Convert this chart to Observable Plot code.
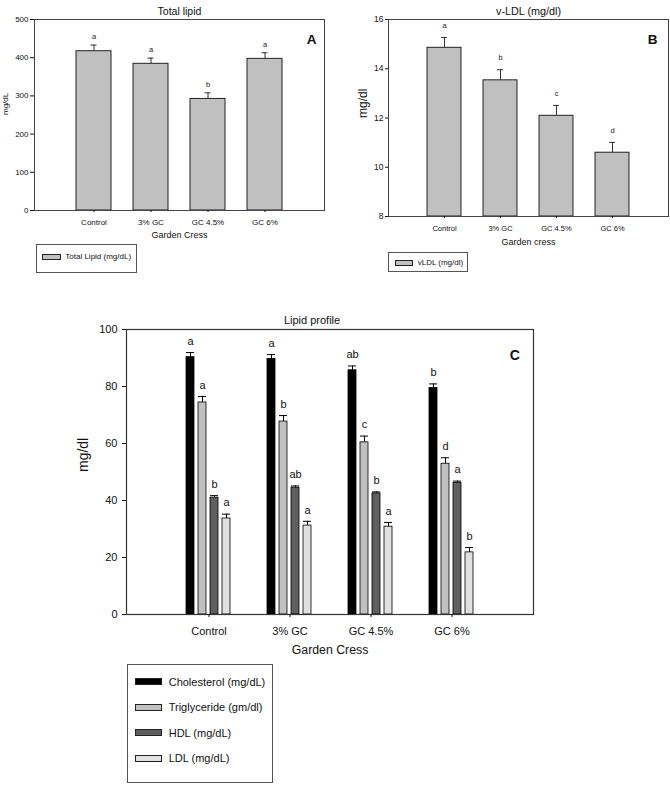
<!DOCTYPE html>
<html>
<head>
<meta charset="utf-8">
<script src="https://cdn.jsdelivr.net/npm/d3@7"></script>
<script src="https://cdn.jsdelivr.net/npm/@observablehq/plot@0.6"></script>
<style>
  body { margin: 0; background: #fff; }
  #page { position: relative; width: 670px; height: 785px; overflow: hidden; background: #fff;
          font-family: "Liberation Sans", Arial, sans-serif; color: #111; }
  .legend { position: absolute; border: 1px solid #555; box-sizing: border-box; }
  .sw { position: absolute; border: 1px solid #222; box-sizing: border-box; }
  .lt { position: absolute; white-space: nowrap; line-height: 1; transform: translateY(-50%); }
</style>
</head>
<body>
<div id="page"></div>
<script>
// ---------- data ----------
const groups = ["Control", "3% GC", "GC 4.5%", "GC 6%"];

// Panel A: Total lipid
const totalLipid = [417, 384, 292, 397];
const totalLipidSE = [16, 15, 16, 16];
const totalLipidLetters = ["a", "a", "b", "a"];
const yTicksA = [0, 100, 200, 300, 400, 500];

// Panel B: v-LDL
const vldl = [14.85, 13.53, 12.09, 10.59];
const vldlSE = [0.42, 0.43, 0.42, 0.42];
const vldlLetters = ["a", "b", "c", "d"];
const yTicksB = [8, 10, 12, 14, 16];

// Panel C: lipid profile
const seriesNames = ["Cholesterol (mg/dL)", "Triglyceride (gm/dl)", "HDL (mg/dL)", "LDL (mg/dL)"];
const cholesterol = [90.3, 89.7, 85.7, 79.5];
const cholesterolSE = [1.6, 1.5, 1.5, 1.4];
const cholesterolLetters = ["a", "a", "ab", "b"];
const triglyceride = [74.4, 67.7, 60.4, 52.9];
const triglycerideSE = [2.1, 2.1, 2.2, 2.1];
const triglycerideLetters = ["a", "b", "c", "d"];
const hdl = [41.0, 44.5, 42.5, 46.2];
const hdlSE = [0.7, 0.6, 0.5, 0.6];
const hdlLetters = ["b", "ab", "b", "a"];
const ldl = [33.7, 31.2, 30.8, 21.8];
const ldlSE = [1.5, 1.5, 1.5, 1.7];
const ldlLetters = ["a", "a", "a", "b"];
const yTicksC = [0, 20, 40, 60, 80, 100];

// ---------- helpers ----------
const FONT = "Liberation Sans, Arial, sans-serif";
const seriesColors = ["#000000", "#c0c0c0", "#606060", "#e0e0e0"];
const page = document.getElementById("page");
function place(node, left, top) {
  node.style.position = "absolute";
  node.style.left = left + "px";
  node.style.top = top + "px";
  page.appendChild(node);
}
function baseStyle(fs) {
  return { fontFamily: FONT, fontSize: fs + "px", color: "#111", background: "transparent", overflow: "visible", maxWidth: "none" };
}
function addLegend({ left, top, width, height, names, fills, swLeft, swW, swH, textLeft, firstRow, rowStep, fontSize }) {
  const box = document.createElement("div");
  box.className = "legend";
  Object.assign(box.style, { left: left + "px", top: top + "px", width: width + "px", height: height + "px" });
  names.forEach((n, i) => {
    const cy = firstRow + i * rowStep;
    const sw = document.createElement("div");
    sw.className = "sw";
    Object.assign(sw.style, { left: swLeft + "px", top: (cy - swH / 2) + "px", width: swW + "px", height: swH + "px", background: fills[i] });
    const t = document.createElement("div");
    t.className = "lt";
    t.textContent = n;
    Object.assign(t.style, { left: textLeft + "px", top: cy + "px", fontSize: fontSize + "px" });
    box.appendChild(sw);
    box.appendChild(t);
  });
  page.appendChild(box);
}

// ---------- Panel A ----------
const dataA = groups.map((g, i) => ({ group: g, value: totalLipid[i], se: totalLipidSE[i], letter: totalLipidLetters[i] }));
const plotA = Plot.plot({
  width: 335, height: 280,
  marginLeft: 34, marginRight: 11, marginTop: 19, marginBottom: 70,
  style: baseStyle(8),
  x: { type: "band", domain: groups, paddingInner: 0.39, paddingOuter: 0.725, axis: null },
  y: { domain: [0, 500], axis: null },
  marks: [
    Plot.barY(dataA, { x: "group", y: "value", fill: "#c0c0c0", stroke: "#222", strokeWidth: 1 }),
    Plot.ruleX(dataA, { x: "group", y1: "value", y2: d => d.value + d.se, stroke: "#333" }),
    Plot.tickY(dataA, { x: "group", y: d => d.value + d.se, stroke: "#333", insetLeft: 14.5, insetRight: 14.5 }),
    Plot.text(dataA, { x: "group", y: d => d.value + d.se, text: "letter", dy: -8.5, fontSize: 7.5, fill: "#222" }),
    Plot.frame({ stroke: "#444" }),
    Plot.axisY({ ticks: yTicksA, tickSize: 4, tickPadding: 2, label: null, fontSize: 8 }),
    Plot.axisX({ tickSize: 2, tickPadding: 7, label: null, fontSize: 8 }),
    Plot.text(["mg/dL"], { frameAnchor: "left", rotate: -90, dx: -29, fontSize: 8 }),
    Plot.text(["Garden Cress"], { frameAnchor: "bottom", dy: 27, fontSize: 9 }),
    Plot.text(["Total lipid"], { frameAnchor: "top", dy: -12, fontSize: 10.5 }),
    Plot.text(["A"], { frameAnchor: "top-right", textAnchor: "end", dx: -8, dy: 15, fontSize: 13.5, fontWeight: "bold" })
  ]
});
place(plotA, 0, 0);

// ---------- Panel B ----------
const dataB = groups.map((g, i) => ({ group: g, value: vldl[i], se: vldlSE[i], letter: vldlLetters[i] }));
const yDomainB = [yTicksB[0], yTicksB[yTicksB.length - 1]];
const plotB = Plot.plot({
  width: 335, height: 280,
  marginLeft: 53, marginRight: 2, marginTop: 19, marginBottom: 64,
  style: baseStyle(8),
  x: { type: "band", domain: groups, paddingInner: 0.393, paddingOuter: 0.694, axis: null },
  y: { domain: yDomainB, axis: null },
  marks: [
    Plot.barY(dataB, { x: "group", y1: yDomainB[0], y2: "value", fill: "#c0c0c0", stroke: "#222", strokeWidth: 1 }),
    Plot.ruleX(dataB, { x: "group", y1: "value", y2: d => d.value + d.se, stroke: "#333" }),
    Plot.tickY(dataB, { x: "group", y: d => d.value + d.se, stroke: "#333", insetLeft: 14, insetRight: 14 }),
    Plot.text(dataB, { x: "group", y: d => d.value + d.se, text: "letter", dy: -12, fontSize: 7.5, fill: "#222" }),
    Plot.frame({ stroke: "#444" }),
    Plot.axisY({ ticks: yTicksB, tickSize: 3, tickPadding: 2, label: null, fontSize: 8.5 }),
    Plot.axisX({ tickSize: 2, tickPadding: 7, label: null, fontSize: 7.5 }),
    Plot.text(["mg/dl"], { frameAnchor: "left", rotate: -90, dx: -25, fontSize: 12 }),
    Plot.text(["Garden cress"], { frameAnchor: "bottom", dy: 28.5, fontSize: 9 }),
    Plot.text(["v-LDL (mg/dl)"], { frameAnchor: "top", dy: -12, fontSize: 10.8 }),
    Plot.text(["B"], { frameAnchor: "top-right", textAnchor: "end", dx: -11, dy: 15, fontSize: 13.5, fontWeight: "bold" })
  ]
});
place(plotB, 335, 0);

// ---------- Panel C ----------
const seriesValues = [cholesterol, triglyceride, hdl, ldl];
const seriesSE = [cholesterolSE, triglycerideSE, hdlSE, ldlSE];
const seriesLetters = [cholesterolLetters, triglycerideLetters, hdlLetters, ldlLetters];
const dataC = [];
groups.forEach((g, gi) => seriesNames.forEach((s, si) => dataC.push({
  group: g, series: s, value: seriesValues[si][gi], se: seriesSE[si][gi], letter: seriesLetters[si][gi]
})));
const dimsC = { width: 670, height: 380, marginLeft: 126, marginRight: 137, marginTop: 29, marginBottom: 66 };
const fxOpts = { type: "band", domain: groups, paddingInner: 0.4, paddingOuter: 0.71 };

// bar layer (bottom): grouped bars via facets
const plotCBars = Plot.plot({
  ...dimsC,
  style: baseStyle(11),
  fx: { ...fxOpts, axis: null, label: null },
  x: { domain: seriesNames, paddingInner: 0.33, paddingOuter: 0.17, axis: null },
  y: { domain: [0, 100], axis: null },
  color: { domain: seriesNames, range: seriesColors },
  marks: [
    Plot.barY(dataC, { fx: "group", x: "series", y: "value", fill: "series", stroke: "#000", strokeWidth: 0.8 }),
    Plot.ruleX(dataC, { fx: "group", x: "series", y1: "value", y2: d => d.value + d.se, stroke: "#000" }),
    Plot.tickY(dataC, { fx: "group", x: "series", y: d => d.value + d.se, stroke: "#000" }),
    Plot.text(dataC, { fx: "group", x: "series", y: d => d.value + d.se, text: "letter", dy: -11.3, fontSize: 11, fill: "#111" })
  ]
});
place(plotCBars, 0, 300);

// frame/axes layer (top, transparent)
const plotCBase = Plot.plot({
  ...dimsC,
  style: baseStyle(11),
  x: { ...fxOpts, axis: null },
  y: { domain: [0, 100], axis: null },
  marks: [
    Plot.frame({ stroke: "#333", strokeWidth: 1.2 }),
    Plot.axisY({ ticks: yTicksC, tickSize: 4, tickPadding: 5, label: null, fontSize: 11 }),
    Plot.axisX({ tickSize: 3, tickPadding: 9.5, label: null, fontSize: 11 }),
    Plot.text(["mg/dl"], { frameAnchor: "left", rotate: -90, dx: -43.2, fontSize: 14 }),
    Plot.text(["Garden Cress"], { frameAnchor: "bottom", dy: 39.3, fontSize: 12.3 }),
    Plot.text(["Lipid profile"], { frameAnchor: "top", dx: -18, dy: -13.3, fontSize: 11 }),
    Plot.text(["C"], { frameAnchor: "top-right", textAnchor: "end", dx: -13.7, dy: 20.7, fontSize: 14, fontWeight: "bold" })
  ]
});
place(plotCBase, 0, 300);

// ---------- legends ----------
addLegend({ left: 35.7, top: 244.3, width: 101, height: 28.4, names: ["Total Lipid (mg/dL)"], fills: ["#c0c0c0"],
  swLeft: 5.3, swW: 19, swH: 5.5, textLeft: 28.6, firstRow: 11.5, rowStep: 0, fontSize: 8 });
addLegend({ left: 388.3, top: 251.7, width: 80, height: 20, names: ["vLDL (mg/dl)"], fills: ["#c0c0c0"],
  swLeft: 6, swW: 17.4, swH: 6, textLeft: 28.4, firstRow: 10.3, rowStep: 0, fontSize: 8 });
addLegend({ left: 127.3, top: 664.3, width: 146, height: 119, names: seriesNames, fills: seriesColors,
  swLeft: 7, swW: 26.7, swH: 6.7, textLeft: 40.4, firstRow: 16.4, rowStep: 25.5, fontSize: 11 });
</script>
</body>
</html>
